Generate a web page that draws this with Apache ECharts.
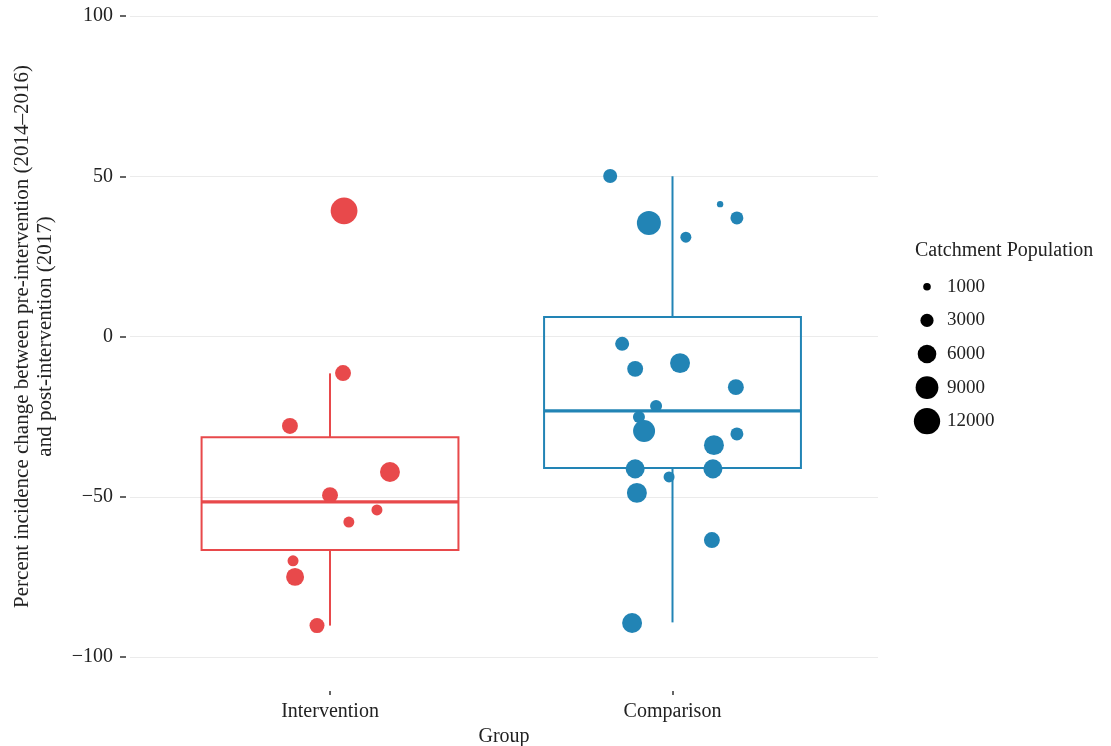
<!DOCTYPE html>
<html>
<head>
<meta charset="utf-8">
<script src="https://cdn.jsdelivr.net/npm/echarts@6/dist/echarts.min.js"></script>
<style>
  html, body { margin: 0; padding: 0; background: #fff; }
  #chart { width: 1111px; height: 746px; }
</style>
</head>
<body>
<div id="chart"></div>
<script>
const groups = ['Intervention', 'Comparison']
const groupColors = ['#E8494B', '#2284B5']
const yTicks = [-100, -50, 0, 50, 100]

// box stats: whisker low, Q1, median, Q3, whisker high
const interventionBox = [-90.2, -66.6, -51.6, -31.4, -11.5]
const comparisonBox = [-89.2, -41.0, -23.2, 6.1, 50.0]

// jittered points: x offset from the group centre, % change, catchment population
const interventionJitter = [0.041, 0.038, -0.117, 0.175, 0.0, 0.137, 0.055, -0.108, -0.102, -0.038]
const interventionChange = [39.2, -11.4, -27.9, -42.3, -49.5, -54.1, -57.9, -70.0, -75.0, -90.2]
const interventionPop = [12500, 4400, 4400, 6900, 4400, 2100, 2100, 2100, 5600, 3900]

const comparisonJitter = [-0.182, -0.069, 0.139, 0.188, 0.039, -0.147, -0.109, 0.022, 0.185, -0.048,
  -0.098, -0.083, 0.188, 0.121, -0.109, 0.118, -0.010, -0.104, 0.115, -0.118]
const comparisonChange = [50.1, 35.4, 41.3, 37.0, 31.0, -2.3, -10.1, -8.3, -15.8, -21.7,
  -25.1, -29.5, -30.4, -33.9, -41.3, -41.3, -43.8, -48.8, -63.5, -89.4]
const comparisonPop = [3400, 10000, 700, 2900, 2100, 3400, 4400, 6900, 4400, 2500,
  2500, 8400, 2900, 6900, 6300, 6300, 2100, 6900, 4400, 6900]

const legendValues = [1000, 3000, 6000, 9000, 12000]

const sizeOf = (pop) => 0.24 * Math.sqrt(pop)
const font = "'Liberation Serif', 'DejaVu Serif', serif"

const chart = echarts.init(document.getElementById('chart'))

const points = (jitter, change, pop, gi) =>
  jitter.map((j, i) => [gi + 1 + j, change[i], pop[i]])

const boxData = [interventionBox, comparisonBox].map((b, i) => [i + 1, ...b])

const option = {
  animation: false,
  title: {
    text: 'Catchment Population',
    left: 910,
    top: 236,
    textStyle: { fontFamily: font, fontSize: 20, fontWeight: 'normal', color: '#222' },
  },
  grid: [
    { left: 130, right: 233, top: 16, bottom: 89, outerBoundsMode: 'none' },
    { left: 912, width: 30, top: 270, height: 168, outerBoundsMode: 'none' },
  ],
  xAxis: [
    {
      gridIndex: 0,
      type: 'value',
      min: 0.416,
      max: 2.6,
      offset: 34,
      position: 'bottom',
      splitLine: { show: false },
      axisLine: { show: false, onZero: false },
      axisTick: { show: true, length: 4, customValues: [1, 2], lineStyle: { color: '#333', width: 1.5 } },
      axisLabel: {
        customValues: [1, 2],
        formatter: (v) => groups[Math.round(v) - 1],
        margin: 11,
        fontFamily: font,
        fontSize: 20,
        color: '#222',
      },
      name: 'Group',
      nameLocation: 'middle',
      nameGap: 32,
      nameTextStyle: { fontFamily: font, fontSize: 20, color: '#222' },
    },
    { gridIndex: 1, type: 'value', min: 0, max: 1, show: false },
  ],
  yAxis: [
    {
      gridIndex: 0,
      type: 'value',
      min: -100,
      max: 100,
      interval: 50,
      offset: 4,
      axisLine: { show: false },
      axisTick: { show: true, length: 6, lineStyle: { color: '#333', width: 1.5 } },
      splitLine: { show: true, lineStyle: { color: '#ebebeb', width: 1 } },
      axisLabel: {
        margin: 13,
        fontFamily: font,
        fontSize: 20,
        color: '#222',
        formatter: (v) => (v < 0 ? '\u2212' + Math.abs(v) : String(v)),
      },
      name: 'Percent incidence change between pre-intervention (2014\u20132016)\nand post-intervention (2017)',
      nameLocation: 'middle',
      nameGap: 69,
      nameTextStyle: { fontFamily: font, fontSize: 21, color: '#222', lineHeight: 23, align: 'center' },
    },
    {
      gridIndex: 1,
      type: 'category',
      data: legendValues.map(String),
      inverse: true,
      position: 'right',
      axisLine: { show: false },
      axisTick: { show: false },
      axisLabel: { margin: 5, fontFamily: font, fontSize: 19, color: '#222' },
    },
  ],
  series: [
    {
      type: 'custom',
      xAxisIndex: 0,
      yAxisIndex: 0,
      data: boxData,
      z: 2,
      renderItem: (params, api) => {
        const gi = api.value(0)
        const color = groupColors[gi - 1]
        const half = 0.375
        const lo = api.coord([gi, api.value(1)])
        const q1 = api.coord([gi - half, api.value(2)])
        const q1r = api.coord([gi + half, api.value(2)])
        const med = api.coord([gi - half, api.value(3)])
        const medr = api.coord([gi + half, api.value(3)])
        const q3 = api.coord([gi - half, api.value(4)])
        const q3c = api.coord([gi, api.value(4)])
        const q1c = api.coord([gi, api.value(2)])
        const hi = api.coord([gi, api.value(5)])
        const ls = { stroke: color, lineWidth: 2, fill: null }
        return {
          type: 'group',
          children: [
            { type: 'line', shape: { x1: hi[0], y1: hi[1], x2: q3c[0], y2: q3c[1] }, style: ls },
            { type: 'line', shape: { x1: q1c[0], y1: q1c[1], x2: lo[0], y2: lo[1] }, style: ls },
            { type: 'rect', shape: { x: q3[0], y: q3[1], width: q1r[0] - q3[0], height: q1[1] - q3[1] }, style: ls },
            { type: 'line', shape: { x1: med[0], y1: med[1], x2: medr[0], y2: medr[1] }, style: { stroke: color, lineWidth: 3.2 } },
          ],
        }
      },
    },
    {
      type: 'scatter',
      xAxisIndex: 0,
      yAxisIndex: 0,
      z: 3,
      data: points(interventionJitter, interventionChange, interventionPop, 0),
      symbolSize: (v) => sizeOf(v[2]),
      itemStyle: { color: groupColors[0], opacity: 1 },
    },
    {
      type: 'scatter',
      xAxisIndex: 0,
      yAxisIndex: 0,
      z: 3,
      data: points(comparisonJitter, comparisonChange, comparisonPop, 1),
      symbolSize: (v) => sizeOf(v[2]),
      itemStyle: { color: groupColors[1], opacity: 1 },
    },
    {
      type: 'scatter',
      xAxisIndex: 1,
      yAxisIndex: 1,
      data: legendValues.map((v) => [0.5, String(v)]),
      symbolSize: (v, p) => sizeOf(legendValues[p.dataIndex]),
      itemStyle: { color: '#000', opacity: 1 },
      silent: true,
    },
  ],
}

chart.setOption(option)
</script>
</body>
</html>
